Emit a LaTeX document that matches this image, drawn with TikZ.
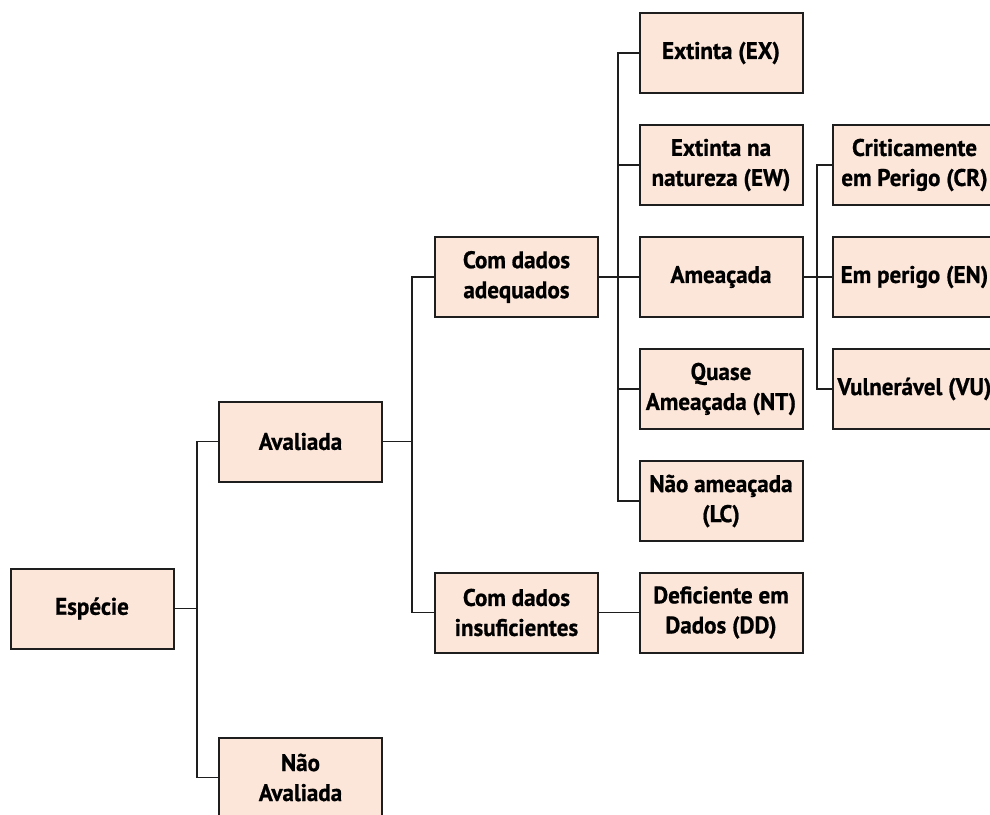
\documentclass[tikz,border=0pt]{standalone}
\usepackage{fontspec}
\setmainfont{PT Sans}[FakeStretch=0.96,BoldFeatures={FakeBold=0.8}]
\usepackage{tikz}

\definecolor{boxfill}{RGB}{252,230,218}
\definecolor{linecol}{RGB}{30,30,30}

\begin{document}
\begin{tikzpicture}[x=1pt,y=-1pt,
    box/.style={draw=linecol,line width=2pt,fill=boxfill,minimum width=163pt,
      minimum height=80pt,inner sep=2pt,align=center,
      font=\fontsize{24}{30}\selectfont\bfseries},
    link/.style={draw=linecol,line width=1.5pt}]
    \useasboundingbox (0,0) rectangle (990,814);
    % columns
    \node[box] (esp) at (92,608.5) {Espécie};
    \node[box] (aval) at (300.5,441.5) {Avaliada};
    \node[box] (nao) at (300.5,777.5) {Não\\Avaliada};
    \node[box] (adeq) at (516.5,277) {Com dados\\adequados};
    \node[box] (insuf) at (516.5,612.5) {Com dados\\insuficientes};
    \node[box] (ex) at (721,53) {Extinta (EX)};
    \node[box] (ew) at (721,165) {Extinta na\\natureza (EW)};
    \node[box] (amea) at (721,277) {Ameaçada};
    \node[box] (nt) at (721,389) {Quase\\Ameaçada (NT)};
    \node[box] (lc) at (721,501) {Não ameaçada\\(LC)};
    \node[box] (dd) at (721,612.5) {Deficiente em\\Dados (DD)};
    \node[box] (cr) at (914.5,165) {Criticamente\\em Perigo (CR)};
    \node[box] (en) at (914.5,277) {Em perigo (EN)};
    \node[box] (vu) at (914.5,389) {Vulnerável (VU)};
    % buses
    \coordinate (b1) at (197,0);
    \coordinate (b2) at (412,0);
    \coordinate (b3) at (618,0);
    \coordinate (b4) at (817,0);
    \draw[link] (esp.east) -- (esp.east -| b1);
    \draw[link] (aval.west) -- (aval.west -| b1) -- (nao.west -| b1) -- (nao.west);
    \draw[link] (aval.east) -- (aval.east -| b2);
    \draw[link] (adeq.west) -- (adeq.west -| b2) -- (insuf.west -| b2) -- (insuf.west);
    \draw[link] (adeq.east) -- (amea.west);
    \draw[link] (ex.west) -- (ex.west -| b3) -- (lc.west -| b3) -- (lc.west);
    \foreach \n in {ew,nt} \draw[link] (\n.west) -- (\n.west -| b3);
    \draw[link] (insuf.east) -- (dd.west);
    \draw[link] (amea.east) -- (en.west);
    \draw[link] (cr.west) -- (cr.west -| b4) -- (vu.west -| b4) -- (vu.west);
  \end{tikzpicture}
\end{document}
